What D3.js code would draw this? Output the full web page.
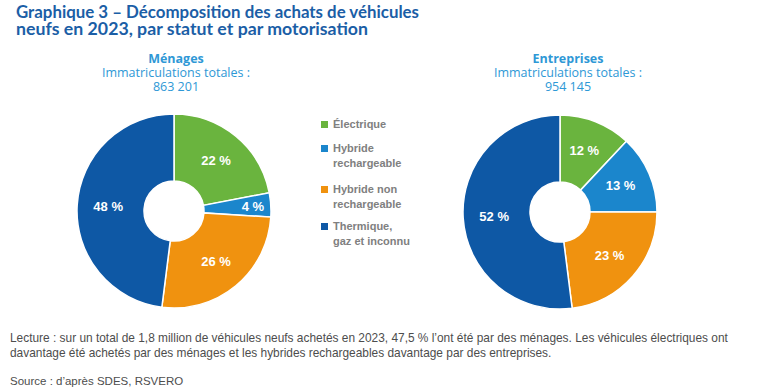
<!DOCTYPE html>
<html><head><meta charset="utf-8">
<script src="https://cdn.jsdelivr.net/npm/d3@7"></script>
<style>body{margin:0;background:#fff}</style>
</head><body><svg id="c" width="772" height="392"></svg>
<script>
const categories = ["Électrique", "Hybride rechargeable", "Hybride non rechargeable", "Thermique, gaz et inconnu"];
const legendLines = [["Électrique"], ["Hybride", "rechargeable"], ["Hybride non", "rechargeable"], ["Thermique,", "gaz et inconnu"]];
const colors = ["#6AB43E", "#1B86CC", "#F0920F", "#0E58A5"];
const menagesValues = [22, 4, 26, 48];
const entreprisesValues = [12, 13, 23, 52];
const panelTitles = ["Ménages", "Entreprises"];
const panelTotals = ["863 201", "954 145"];
const title = ["Graphique 3 – Décomposition des achats de véhicules", "neufs en 2023, par statut et par motorisation"];
const notes = ["Lecture : sur un total de 1,8 million de véhicules neufs achetés en 2023, 47,5 % l’ont été par des ménages. Les véhicules électriques ont",
  "davantage été achetés par des ménages et les hybrides rechargeables davantage par des entreprises."];
const source = "Source : d’après SDES, RSVERO";

const svg = d3.select("#c");
const titleFont = "Lato, 'Open Sans', sans-serif";
const subFont = "'Open Sans', 'Noto Sans', sans-serif";

const titleW = [403, 352];
title.forEach((t, i) => {
  svg.append("text").attr("x", 16).attr("y", 18 + i * 16.5).attr("font-family", titleFont).attr("font-weight", 700)
    .attr("font-size", 16.5).attr("fill", "#1B5EA6")
    .attr("textLength", titleW[i]).attr("lengthAdjust", "spacingAndGlyphs").text(t);
});

const pies = [
  {values: menagesValues, cx: 174, cy: 211, tx: 176},
  {values: entreprisesValues, cx: 560, cy: 212, tx: 568}
];
const outerR = 97, innerR = 30;
const pie = d3.pie().sort(null).value(d => d);
const arc = d3.arc().innerRadius(innerR).outerRadius(outerR);

pies.forEach((p, i) => {
  const g = svg.append("g").attr("transform", `translate(${p.cx},${p.cy})`);
  const arcs = pie(p.values);
  g.selectAll("path").data(arcs).join("path")
    .attr("d", arc).attr("fill", (d, j) => colors[j])
    .attr("stroke", "#fff").attr("stroke-width", 1.5);
  g.selectAll("text").data(arcs).join("text")
    .attr("transform", d => {
      const r = d.data < 6 ? 79 : 66;
      const a = (d.startAngle + d.endAngle) / 2;
      return `translate(${r * Math.sin(a)},${-r * Math.cos(a)})`;
    })
    .attr("text-anchor", "middle").attr("dy", "0.35em")
    .attr("font-family", "'Liberation Sans', Arial, sans-serif").attr("font-weight", 700)
    .attr("font-size", 13).attr("fill", "#fff")
    .text(d => d.data + " %");
  const t = svg.append("text").attr("text-anchor", "middle").attr("font-family", subFont).attr("fill", "#2E98D6").attr("font-size", 12.5);
  t.append("tspan").attr("x", p.tx).attr("y", 63).attr("font-weight", 700).text(panelTitles[i]);
  t.append("tspan").attr("x", p.tx).attr("y", 77).text("Immatriculations totales :");
  t.append("tspan").attr("x", p.tx).attr("y", 91).text(panelTotals[i]);
});

// legend
const legY = [121, 145, 186, 223];
const lg = svg.append("g");
legendLines.forEach((lines, i) => {
  lg.append("rect").attr("x", 321).attr("y", legY[i]).attr("width", 7).attr("height", 7).attr("fill", colors[i]);
  lines.forEach((l, k) => {
    lg.append("text").attr("x", 333).attr("y", legY[i] + 7 + k * 15)
      .attr("font-family", "'Liberation Sans', Arial, sans-serif").attr("font-weight", 700)
      .attr("font-size", 11).attr("fill", "#808080").text(l);
  });
});

const noteFont = "'Liberation Sans', Arial, sans-serif";
notes.forEach((n, i) => {
  svg.append("text").attr("x", 10).attr("y", 342 + i * 15).attr("font-family", noteFont)
    .attr("font-size", 11.9).attr("fill", "#4d4d4d").text(n);
});
svg.append("text").attr("x", 10).attr("y", 385).attr("font-family", noteFont)
  .attr("font-size", 11.5).attr("fill", "#4d4d4d").text(source);
</script></body></html>
